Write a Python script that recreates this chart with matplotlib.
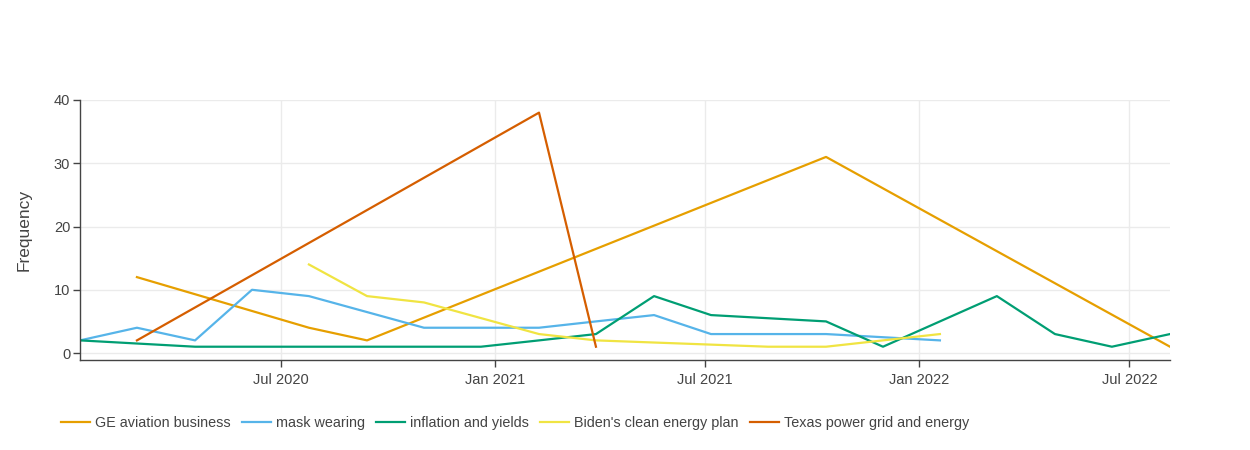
import datetime as dt
import matplotlib
matplotlib.use("Agg")
import matplotlib.pyplot as plt
import matplotlib.dates as mdates

plt.rcParams['font.family'] = ['Liberation Sans', 'DejaVu Sans']

# bin dates (x axis)
bins = ["2020-01-10", "2020-02-28", "2020-04-18", "2020-06-06", "2020-07-25",
        "2020-09-13", "2020-11-01", "2020-12-20", "2021-02-08", "2021-03-29",
        "2021-05-18", "2021-07-06", "2021-08-24", "2021-10-13", "2021-12-01",
        "2022-01-19", "2022-03-09", "2022-04-28", "2022-06-16", "2022-08-05"]

ge_aviation = [None, 12, None, None, 4, 2, None, None, None, None,
               None, None, None, 31, None, None, None, None, None, 1]
mask_wearing = [2, 4, 2, 10, 9, None, 4, 4, 4, 5,
                6, 3, 3, 3, None, 2, None, None, None, None]
inflation = [2, None, 1, 1, 1, 1, 1, 1, 2, 3,
             9, 6, None, 5, 1, None, 9, 3, 1, 3]
biden_energy = [None, None, None, None, 14, 9, 8, None, 3, 2,
                None, None, 1, 1, None, 3, None, None, None, None]
texas_grid = [None, 2, None, None, None, None, None, None, 38, 1,
              None, None, None, None, None, None, None, None, None, None]

labels = ["GE aviation business", "mask wearing", "inflation and yields",
          "Biden's clean energy plan", "Texas power grid and energy"]
colors = ["#E69F00", "#56B4E9", "#009E73", "#F0E442", "#D55E00"]
series = [ge_aviation, mask_wearing, inflation, biden_energy, texas_grid]

xticks = ["2020-07-01", "2021-01-01", "2021-07-01", "2022-01-01", "2022-07-01"]

dates = [dt.datetime.strptime(d, "%Y-%m-%d") for d in bins]

fig = plt.figure(figsize=(12.5, 4.5), dpi=100)
ax = fig.add_axes([0.064, 0.2, 0.872, 0.5778])

for vals, lab, col in zip(series, labels, colors):
    xs = [d for d, v in zip(dates, vals) if v is not None]
    ys = [v for v in vals if v is not None]
    ax.plot(xs, ys, color=col, lw=1.6, label=lab)

ax.set_xlim(dates[0], dates[-1])
ax.set_ylim(-1.1, 40)
ax.set_yticks([0, 10, 20, 30, 40])
ax.set_xticks([dt.datetime.strptime(d, "%Y-%m-%d") for d in xticks])
ax.xaxis.set_major_formatter(mdates.DateFormatter("%b %Y"))

ax.grid(True, color="#ebebeb", lw=1)
ax.set_axisbelow(True)
for s in ["top", "right"]:
    ax.spines[s].set_visible(False)
for s in ["left", "bottom"]:
    ax.spines[s].set_color("#444444")
    ax.spines[s].set_linewidth(1)
ax.tick_params(colors="#444444", labelsize=10.5, length=5, width=1)
ax.tick_params(axis="x", pad=4)
ax.tick_params(axis="y", pad=2)
ax.set_ylabel("Frequency", fontsize=12.5, color="#444444", labelpad=16)

fig.legend(loc="center left", bbox_to_anchor=(0.0385, 0.06), ncol=5, frameon=False,
           fontsize=10.4, handlelength=2.0, handletextpad=0.35, columnspacing=0.78,
           labelcolor="#444444")

fig.savefig("out.png", dpi=100)
